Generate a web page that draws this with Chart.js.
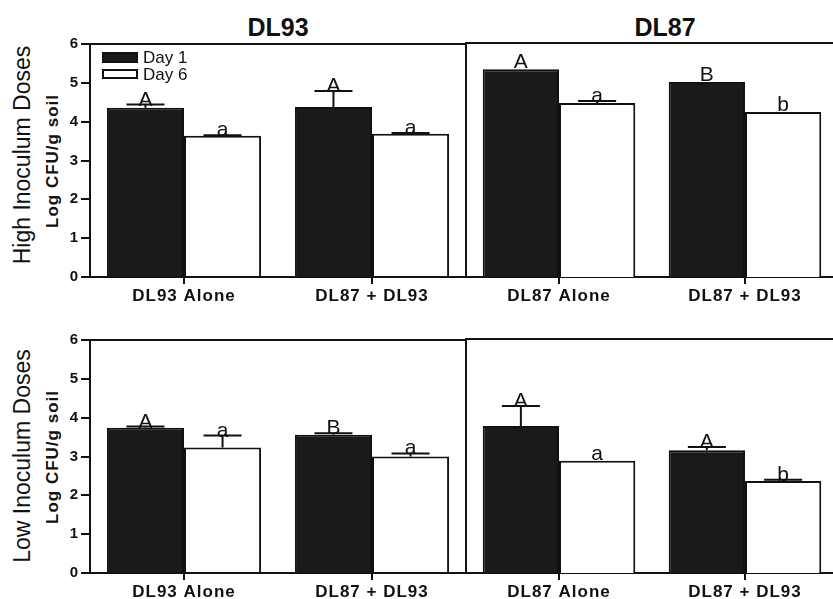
<!DOCTYPE html>
<html>
<head>
<meta charset="utf-8">
<script src="https://cdn.jsdelivr.net/npm/chart.js@4.4.1/dist/chart.umd.min.js"></script>
<style>
    body { margin: 0; background: #fff; width: 833px; height: 599px; overflow: hidden; position: relative; font-family: Arial, "Liberation Sans", sans-serif; color: #111; }
    .box { position: absolute; }
    .title { position: absolute; font-weight: bold; font-size: 25px; line-height: 25px; transform: translate(-50%, -50%); white-space: nowrap; }
    .rot { position: absolute; white-space: nowrap; transform: translate(-50%, -50%) rotate(-90deg); }
    .big { font-size: 23px; line-height: 23px; }
    .small { font-size: 17px; line-height: 17px; font-weight: bold; letter-spacing: 1px; }
    .leg { position: absolute; font-size: 17px; line-height: 17px; white-space: nowrap; }
    .swatch { position: absolute; box-sizing: border-box; border: 2px solid #111; }
</style>
</head>
<body>

<div class="title" style="left:278px; top:27px;">DL93</div>
<div class="title" style="left:665px; top:27px;">DL87</div>

<div class="rot big" style="left:22px; top:155px;">High Inoculum Doses</div>
<div class="rot small" style="left:52px; top:161px;">Log CFU/g soil</div>
<div class="rot big" style="left:22px; top:456px;">Low Inoculum Doses</div>
<div class="rot small" style="left:52px; top:457px;">Log CFU/g soil</div>

<div class="box" style="left:40px; top:33px;"><canvas id="highDL93" width="428" height="274"></canvas></div>
<div class="box" style="left:465px; top:33px;"><canvas id="highDL87" width="375" height="274"></canvas></div>
<div class="box" style="left:40px; top:329px;"><canvas id="lowDL93" width="428" height="274"></canvas></div>
<div class="box" style="left:465px; top:329px;"><canvas id="lowDL87" width="375" height="274"></canvas></div>

<div class="swatch" style="left:102px; top:52px; width:36px; height:11px; background:#1a1a1a;"></div>
<div class="leg" style="left:143px; top:49px;">Day 1</div>
<div class="swatch" style="left:102px; top:69px; width:36px; height:10px; background:#fff;"></div>
<div class="leg" style="left:143px; top:66px;">Day 6</div>

<script>
const yTicks = [0, 1, 2, 3, 4, 5, 6];
const seriesNames = ['Day 1', 'Day 6'];

const catDL93 = ['DL93 Alone', 'DL87 + DL93'];
const catDL87 = ['DL87 Alone', 'DL87 + DL93'];

// High inoculum doses
const highDL93Day1 = [4.36, 4.38];
const highDL93Day1Err = [0.08, 0.41];
const highDL93Day1Letters = ['A', 'A'];
const highDL93Day6 = [3.64, 3.69];
const highDL93Day6Err = [0.01, 0.02];
const highDL93Day6Letters = ['a', 'a'];

const highDL87Day1 = [5.33, 5.00];
const highDL87Day1Err = [0, 0];
const highDL87Day1Letters = ['A', 'B'];
const highDL87Day6 = [4.46, 4.23];
const highDL87Day6Err = [0.05, 0];
const highDL87Day6Letters = ['a', 'b'];

// Low inoculum doses
const lowDL93Day1 = [3.74, 3.56];
const lowDL93Day1Err = [0.03, 0.04];
const lowDL93Day1Letters = ['A', 'B'];
const lowDL93Day6 = [3.23, 3.00];
const lowDL93Day6Err = [0.31, 0.08];
const lowDL93Day6Letters = ['a', 'a'];

const lowDL87Day1 = [3.77, 3.15];
const lowDL87Day1Err = [0.51, 0.08];
const lowDL87Day1Letters = ['A', 'A'];
const lowDL87Day6 = [2.88, 2.36];
const lowDL87Day6Err = [0, 0.03];
const lowDL87Day6Letters = ['a', 'b'];

const ink = '#111';
const fontFam = 'Arial, "Liberation Sans", sans-serif';

// frame lines, error bars (upper only) and letters
const extras = {
    id: 'extras',
    beforeDraw(chart) {
        chart.ctx.letterSpacing = '1px';
    },
    afterDatasetsDraw(chart) {
        const ctx = chart.ctx;
        const y = chart.scales.y;
        ctx.save();
        ctx.letterSpacing = '0px';
        ctx.strokeStyle = ink;
        ctx.fillStyle = ink;
        ctx.lineWidth = 2;
        chart.data.datasets.forEach((ds, i) => {
            const meta = chart.getDatasetMeta(i);
            meta.data.forEach((bar, j) => {
                const v = ds.data[j];
                const e = ds.errors[j];
                let top = y.getPixelForValue(v + e);
                if (e > 0) {
                    ctx.beginPath();
                    ctx.moveTo(bar.x, bar.y);
                    ctx.lineTo(bar.x, top);
                    ctx.moveTo(bar.x - 19, top);
                    ctx.lineTo(bar.x + 19, top);
                    ctx.stroke();
                }
                ctx.font = '21px ' + fontFam;
                ctx.textAlign = 'center';
                ctx.textBaseline = 'alphabetic';
                ctx.fillText(ds.letters[j], bar.x, e > 0 ? top + 1 : top - 1);
            });
        });
        ctx.restore();
    },
    afterDraw(chart, args, opts) {
        const ctx = chart.ctx;
        const a = chart.chartArea;
        ctx.save();
        ctx.strokeStyle = ink;
        ctx.lineWidth = 2;
        ctx.beginPath();
        ctx.moveTo(a.left - 1, a.top);
        ctx.lineTo(a.right + 1, a.top);
        if (opts.right) {
            ctx.moveTo(a.right, a.top);
            ctx.lineTo(a.right, a.bottom);
        }
        ctx.stroke();
        ctx.restore();
    }
};

function makeChart(id, cats, d1, e1, l1, d6, e6, l6, isLeft) {
    const yScale = {
        display: isLeft,
        min: 0,
        max: 6,
        afterBuildTicks: s => { s.ticks = yTicks.map(v => ({ value: v })); },
        grid: { display: true, drawOnChartArea: false, tickLength: 9, lineWidth: 2, color: ink },
        border: { display: true, width: 2, color: ink },
        ticks: { color: ink, padding: 2, font: { family: fontFam, size: 15, weight: 'bold' } }
    };
    if (isLeft) yScale.afterFit = s => { s.width = 50; };

    new Chart(document.getElementById(id), {
        type: 'bar',
        data: {
            labels: cats,
            datasets: [
                { label: seriesNames[0], data: d1, errors: e1, letters: l1, backgroundColor: '#1a1a1a', borderColor: ink, borderWidth: 2 },
                { label: seriesNames[1], data: d6, errors: e6, letters: l6, backgroundColor: '#fff', borderColor: ink, borderWidth: 2 }
            ]
        },
        options: {
            responsive: false,
            animation: false,
            devicePixelRatio: 1,
            barPercentage: 1,
            categoryPercentage: 0.82,
            layout: { padding: isLeft ? { top: 10, right: 2, left: 0, bottom: 0 } : { top: 10, right: 2, left: 1, bottom: 0 } },
            plugins: {
                legend: { display: false },
                tooltip: { enabled: false },
                extras: { right: isLeft }
            },
            scales: {
                x: {
                    afterFit: s => { s.height = 30; },
                    grid: { display: true, drawOnChartArea: false, offset: false, tickLength: 7, lineWidth: 2, color: ink },
                    border: { display: true, width: 2, color: ink },
                    ticks: { color: ink, padding: 2, font: { family: fontFam, size: 17, weight: 'bold' }, maxRotation: 0 }
                },
                y: yScale
            }
        },
        plugins: [extras]
    });
}

makeChart('highDL93', catDL93, highDL93Day1, highDL93Day1Err, highDL93Day1Letters, highDL93Day6, highDL93Day6Err, highDL93Day6Letters, true);
makeChart('highDL87', catDL87, highDL87Day1, highDL87Day1Err, highDL87Day1Letters, highDL87Day6, highDL87Day6Err, highDL87Day6Letters, false);
makeChart('lowDL93', catDL93, lowDL93Day1, lowDL93Day1Err, lowDL93Day1Letters, lowDL93Day6, lowDL93Day6Err, lowDL93Day6Letters, true);
makeChart('lowDL87', catDL87, lowDL87Day1, lowDL87Day1Err, lowDL87Day1Letters, lowDL87Day6, lowDL87Day6Err, lowDL87Day6Letters, false);
</script>
</body>
</html>
